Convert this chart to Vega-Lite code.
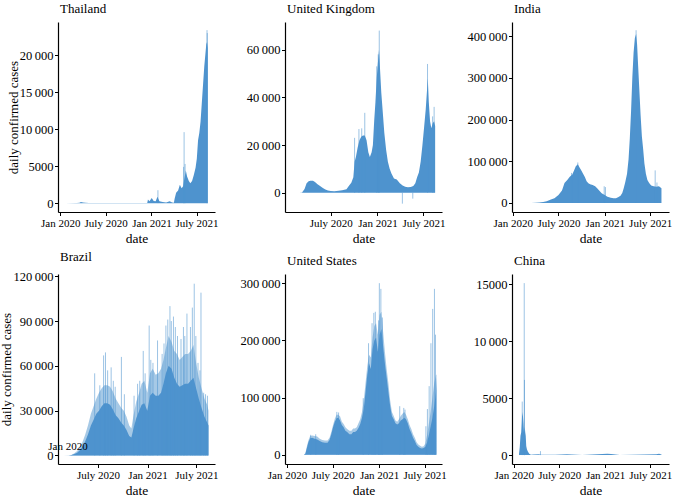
{
"$schema": "https://vega.github.io/schema/vega-lite/v6.json",
"padding": {"left": 0, "top": 3, "right": 3, "bottom": 3},
"columns": 3,
"spacing": {"row": 62, "column": 70},
"bounds": "flush",
"config": {
 "font": "Liberation Serif",
 "view": {"stroke": null},
 "axis": {"grid": false, "domainColor": "#000", "domainWidth": 1.2, "tickColor": "#000", "tickWidth": 1, "tickSize": 3.5, "labelColor": "#000", "labelFont": "Liberation Serif", "labelFontSize": 12.5, "labelPadding": 1.5, "titleFont": "Liberation Serif", "titleFontWeight": "normal", "titleFontSize": 13.5, "titleColor": "#000", "labelFlush": false, "labelOverlap": false},
 "axisX": {"labelFontSize": 11, "titlePadding": 3},
 "axisY": {"titlePadding": -1, "titleFontSize": 13},
 "title": {"font": "Liberation Serif", "fontSize": 13, "fontWeight": "normal", "anchor": "start", "frame": "group", "color": "#000", "offset": 6, "dx": 2}
},
"datasets": {
 "th_c": [{"d":"2020-01-22","v":0},{"d":"2020-03-08","v":5},{"d":"2020-03-18","v":60},{"d":"2020-03-24","v":150},{"d":"2020-04-02","v":100},{"d":"2020-04-12","v":40},{"d":"2020-04-25","v":15},{"d":"2020-05-15","v":5},{"d":"2020-08-01","v":5},{"d":"2020-10-01","v":8},{"d":"2020-12-15","v":10},{"d":"2020-12-18","v":500},{"d":"2020-12-24","v":250},{"d":"2021-01-02","v":700},{"d":"2021-01-10","v":300},{"d":"2021-01-18","v":250},{"d":"2021-01-25","v":850},{"d":"2021-02-02","v":250},{"d":"2021-02-15","v":150},{"d":"2021-03-01","v":100},{"d":"2021-03-15","v":250},{"d":"2021-03-25","v":80},{"d":"2021-04-01","v":60},{"d":"2021-04-04","v":600},{"d":"2021-04-10","v":1400},{"d":"2021-04-18","v":1700},{"d":"2021-04-25","v":2500},{"d":"2021-05-02","v":2000},{"d":"2021-05-08","v":2300},{"d":"2021-05-14","v":3500},{"d":"2021-05-19","v":4400},{"d":"2021-05-24","v":3600},{"d":"2021-05-31","v":3000},{"d":"2021-06-06","v":2700},{"d":"2021-06-13","v":3000},{"d":"2021-06-20","v":3800},{"d":"2021-06-27","v":4800},{"d":"2021-07-02","v":6000},{"d":"2021-07-07","v":8500},{"d":"2021-07-12","v":9500},{"d":"2021-07-17","v":11000},{"d":"2021-07-22","v":13500},{"d":"2021-07-27","v":16000},{"d":"2021-08-01","v":18500},{"d":"2021-08-05","v":20000},{"d":"2021-08-09","v":21500},{"d":"2021-08-12","v":21800},{"d":"2021-08-15","v":21000}],
 "th_s": [{"d":"2021-01-27","v":1750},{"d":"2021-05-10","v":4900},{"d":"2021-05-12","v":9600},{"d":"2021-05-16","v":5300},{"d":"2021-08-12","v":23400},{"d":"2021-08-13","v":23000}],
 "uk_c": [{"d":"2020-01-31","v":0},{"d":"2020-02-28","v":10},{"d":"2020-03-10","v":100},{"d":"2020-03-20","v":1500},{"d":"2020-03-28","v":4000},{"d":"2020-04-05","v":4800},{"d":"2020-04-12","v":5000},{"d":"2020-04-22","v":5000},{"d":"2020-04-30","v":4500},{"d":"2020-05-10","v":3500},{"d":"2020-05-20","v":2800},{"d":"2020-05-31","v":2000},{"d":"2020-06-10","v":1300},{"d":"2020-06-20","v":900},{"d":"2020-07-01","v":700},{"d":"2020-07-15","v":600},{"d":"2020-08-01","v":800},{"d":"2020-08-15","v":1000},{"d":"2020-09-01","v":1400},{"d":"2020-09-10","v":2800},{"d":"2020-09-20","v":4200},{"d":"2020-09-28","v":6500},{"d":"2020-10-03","v":13000},{"d":"2020-10-08","v":15000},{"d":"2020-10-15","v":19000},{"d":"2020-10-22","v":22000},{"d":"2020-10-29","v":23500},{"d":"2020-11-05","v":24000},{"d":"2020-11-12","v":24000},{"d":"2020-11-19","v":22000},{"d":"2020-11-26","v":17000},{"d":"2020-12-02","v":15000},{"d":"2020-12-09","v":17000},{"d":"2020-12-14","v":20000},{"d":"2020-12-19","v":30000},{"d":"2020-12-24","v":38000},{"d":"2020-12-29","v":48000},{"d":"2021-01-03","v":55000},{"d":"2021-01-07","v":60000},{"d":"2021-01-11","v":52000},{"d":"2021-01-16","v":42000},{"d":"2021-01-21","v":35000},{"d":"2021-01-28","v":25000},{"d":"2021-02-04","v":18000},{"d":"2021-02-11","v":13000},{"d":"2021-02-18","v":10000},{"d":"2021-02-25","v":8000},{"d":"2021-03-07","v":6000},{"d":"2021-03-18","v":5500},{"d":"2021-03-30","v":4000},{"d":"2021-04-10","v":3000},{"d":"2021-04-20","v":2500},{"d":"2021-05-01","v":2300},{"d":"2021-05-12","v":2400},{"d":"2021-05-22","v":2800},{"d":"2021-05-30","v":4000},{"d":"2021-06-06","v":6500},{"d":"2021-06-13","v":8500},{"d":"2021-06-20","v":13000},{"d":"2021-06-27","v":20000},{"d":"2021-07-04","v":28000},{"d":"2021-07-10","v":35000},{"d":"2021-07-15","v":43000},{"d":"2021-07-18","v":48000},{"d":"2021-07-22","v":38000},{"d":"2021-07-27","v":30000},{"d":"2021-08-01","v":27000},{"d":"2021-08-06","v":29000},{"d":"2021-08-12","v":30000},{"d":"2021-08-16","v":28000}],
 "uk_s": [{"d":"2020-10-03","v":23000},{"d":"2020-10-20","v":26700},{"d":"2020-10-31","v":27000},{"d":"2020-11-12","v":33500},{"d":"2020-12-29","v":53000},{"d":"2021-01-04","v":58000},{"d":"2021-01-08","v":68000},{"d":"2021-04-09","v":-4600},{"d":"2021-05-20","v":-2500},{"d":"2021-07-17","v":54000},{"d":"2021-08-06","v":32000},{"d":"2021-08-12","v":36000}],
 "in_c": [{"d":"2020-01-30","v":0},{"d":"2020-03-15","v":50},{"d":"2020-04-01","v":300},{"d":"2020-04-15","v":1000},{"d":"2020-05-01","v":2000},{"d":"2020-05-15","v":4000},{"d":"2020-06-01","v":8000},{"d":"2020-06-15","v":11000},{"d":"2020-07-01","v":19000},{"d":"2020-07-15","v":30000},{"d":"2020-07-25","v":48000},{"d":"2020-08-05","v":55000},{"d":"2020-08-15","v":63000},{"d":"2020-08-25","v":68000},{"d":"2020-09-01","v":78000},{"d":"2020-09-08","v":88000},{"d":"2020-09-16","v":93000},{"d":"2020-09-23","v":85000},{"d":"2020-09-30","v":78000},{"d":"2020-10-07","v":70000},{"d":"2020-10-14","v":62000},{"d":"2020-10-21","v":52000},{"d":"2020-10-28","v":47000},{"d":"2020-11-04","v":45000},{"d":"2020-11-14","v":43000},{"d":"2020-11-24","v":40000},{"d":"2020-12-02","v":35000},{"d":"2020-12-10","v":30000},{"d":"2020-12-20","v":23000},{"d":"2021-01-01","v":19000},{"d":"2021-01-12","v":15000},{"d":"2021-01-25","v":12500},{"d":"2021-02-05","v":11000},{"d":"2021-02-15","v":11000},{"d":"2021-02-25","v":14000},{"d":"2021-03-05","v":17000},{"d":"2021-03-12","v":24000},{"d":"2021-03-18","v":36000},{"d":"2021-03-24","v":50000},{"d":"2021-03-31","v":70000},{"d":"2021-04-06","v":105000},{"d":"2021-04-11","v":155000},{"d":"2021-04-16","v":220000},{"d":"2021-04-21","v":300000},{"d":"2021-04-26","v":360000},{"d":"2021-05-01","v":395000},{"d":"2021-05-06","v":405000},{"d":"2021-05-10","v":380000},{"d":"2021-05-14","v":330000},{"d":"2021-05-19","v":270000},{"d":"2021-05-24","v":210000},{"d":"2021-05-29","v":160000},{"d":"2021-06-03","v":130000},{"d":"2021-06-08","v":95000},{"d":"2021-06-14","v":70000},{"d":"2021-06-20","v":55000},{"d":"2021-06-27","v":48000},{"d":"2021-07-05","v":42000},{"d":"2021-07-15","v":40000},{"d":"2021-07-25","v":39000},{"d":"2021-08-05","v":40000},{"d":"2021-08-15","v":35000}],
 "in_s": [{"d":"2020-08-22","v":72000},{"d":"2020-09-16","v":97000},{"d":"2020-12-30","v":40000},{"d":"2021-01-04","v":38000},{"d":"2021-05-06","v":414000},{"d":"2021-07-21","v":78000},{"d":"2021-07-28","v":49000}],
 "br_c": [{"d":"2020-02-26","v":0},{"d":"2020-03-15","v":50},{"d":"2020-03-25","v":300},{"d":"2020-04-05","v":1000},{"d":"2020-04-15","v":1800},{"d":"2020-04-25","v":3500},{"d":"2020-05-05","v":6000},{"d":"2020-05-15","v":9500},{"d":"2020-05-25","v":14000},{"d":"2020-06-05","v":20000},{"d":"2020-06-15","v":24000},{"d":"2020-06-25","v":28000},{"d":"2020-07-05","v":30000},{"d":"2020-07-15","v":33000},{"d":"2020-07-25","v":35000},{"d":"2020-08-05","v":35000},{"d":"2020-08-15","v":34000},{"d":"2020-08-25","v":31000},{"d":"2020-09-05","v":27000},{"d":"2020-09-15","v":25000},{"d":"2020-09-25","v":22000},{"d":"2020-10-05","v":20000},{"d":"2020-10-15","v":17000},{"d":"2020-10-25","v":13000},{"d":"2020-11-02","v":12000},{"d":"2020-11-10","v":18000},{"d":"2020-11-20","v":25000},{"d":"2020-12-01","v":30000},{"d":"2020-12-10","v":34000},{"d":"2020-12-20","v":35000},{"d":"2020-12-31","v":30000},{"d":"2021-01-10","v":40000},{"d":"2021-01-20","v":42000},{"d":"2021-01-31","v":40000},{"d":"2021-02-10","v":40000},{"d":"2021-02-20","v":42000},{"d":"2021-03-01","v":48000},{"d":"2021-03-10","v":55000},{"d":"2021-03-20","v":60000},{"d":"2021-03-31","v":58000},{"d":"2021-04-10","v":52000},{"d":"2021-04-20","v":48000},{"d":"2021-04-30","v":46000},{"d":"2021-05-10","v":47000},{"d":"2021-05-20","v":48000},{"d":"2021-05-31","v":48000},{"d":"2021-06-10","v":50000},{"d":"2021-06-20","v":52000},{"d":"2021-06-30","v":45000},{"d":"2021-07-10","v":38000},{"d":"2021-07-20","v":32000},{"d":"2021-07-31","v":26000},{"d":"2021-08-10","v":22000},{"d":"2021-08-15","v":20000}],
 "br_h": [{"d":"2020-02-26","v":0},{"d":"2020-03-15","v":100},{"d":"2020-03-25","v":400},{"d":"2020-04-05","v":1500},{"d":"2020-04-15","v":3000},{"d":"2020-04-25","v":5500},{"d":"2020-05-05","v":9000},{"d":"2020-05-15","v":14000},{"d":"2020-05-25","v":20000},{"d":"2020-06-05","v":28000},{"d":"2020-06-15","v":33000},{"d":"2020-06-25","v":38000},{"d":"2020-07-05","v":42000},{"d":"2020-07-15","v":45000},{"d":"2020-07-25","v":47000},{"d":"2020-08-05","v":47000},{"d":"2020-08-15","v":46000},{"d":"2020-08-25","v":43000},{"d":"2020-09-05","v":38000},{"d":"2020-09-15","v":35000},{"d":"2020-09-25","v":32000},{"d":"2020-10-05","v":30000},{"d":"2020-10-15","v":26000},{"d":"2020-10-25","v":20000},{"d":"2020-11-02","v":18000},{"d":"2020-11-10","v":27000},{"d":"2020-11-20","v":36000},{"d":"2020-12-01","v":42000},{"d":"2020-12-10","v":48000},{"d":"2020-12-20","v":50000},{"d":"2020-12-31","v":42000},{"d":"2021-01-10","v":55000},{"d":"2021-01-20","v":58000},{"d":"2021-01-31","v":54000},{"d":"2021-02-10","v":55000},{"d":"2021-02-20","v":58000},{"d":"2021-03-01","v":64000},{"d":"2021-03-10","v":72000},{"d":"2021-03-20","v":80000},{"d":"2021-03-31","v":76000},{"d":"2021-04-10","v":70000},{"d":"2021-04-20","v":68000},{"d":"2021-04-30","v":64000},{"d":"2021-05-10","v":66000},{"d":"2021-05-20","v":68000},{"d":"2021-05-31","v":68000},{"d":"2021-06-10","v":70000},{"d":"2021-06-20","v":74000},{"d":"2021-06-30","v":62000},{"d":"2021-07-10","v":52000},{"d":"2021-07-20","v":45000},{"d":"2021-07-31","v":38000},{"d":"2021-08-10","v":34000},{"d":"2021-08-15","v":30000}],
 "br_s": [{"d":"2020-06-19","v":55000},{"d":"2020-07-08","v":47000},{"d":"2020-07-22","v":67000},{"d":"2020-07-29","v":69000},{"d":"2020-08-06","v":57000},{"d":"2020-08-19","v":59000},{"d":"2020-08-27","v":50000},{"d":"2020-09-03","v":46000},{"d":"2020-09-26","v":66000},{"d":"2020-10-07","v":41000},{"d":"2020-11-12","v":40000},{"d":"2020-11-25","v":48000},{"d":"2020-12-03","v":50000},{"d":"2020-12-16","v":70000},{"d":"2020-12-23","v":55000},{"d":"2021-01-07","v":87000},{"d":"2021-01-13","v":64000},{"d":"2021-01-21","v":62000},{"d":"2021-02-07","v":77000},{"d":"2021-02-24","v":68000},{"d":"2021-03-03","v":75000},{"d":"2021-03-10","v":87000},{"d":"2021-03-17","v":91000},{"d":"2021-03-25","v":100000},{"d":"2021-03-30","v":90000},{"d":"2021-04-07","v":93000},{"d":"2021-04-14","v":86000},{"d":"2021-04-22","v":80000},{"d":"2021-05-05","v":78000},{"d":"2021-05-14","v":86000},{"d":"2021-05-19","v":80000},{"d":"2021-05-27","v":95000},{"d":"2021-06-09","v":86000},{"d":"2021-06-16","v":99000},{"d":"2021-06-23","v":115000},{"d":"2021-06-29","v":80000},{"d":"2021-07-07","v":62000},{"d":"2021-07-14","v":57000},{"d":"2021-07-18","v":109000},{"d":"2021-07-28","v":42000},{"d":"2021-08-04","v":41000},{"d":"2021-08-11","v":40000}],
 "br_t": [{"d":"2020-03-12","v":5600,"t":"Jan 2020"}],
 "us_c": [{"d":"2020-01-22","v":0},{"d":"2020-03-01","v":10},{"d":"2020-03-08","v":200},{"d":"2020-03-14","v":2000},{"d":"2020-03-20","v":12000},{"d":"2020-03-26","v":22000},{"d":"2020-04-02","v":29000},{"d":"2020-04-10","v":30000},{"d":"2020-04-20","v":28000},{"d":"2020-04-30","v":27000},{"d":"2020-05-10","v":24000},{"d":"2020-05-20","v":22000},{"d":"2020-05-31","v":21000},{"d":"2020-06-10","v":21000},{"d":"2020-06-18","v":26000},{"d":"2020-06-25","v":36000},{"d":"2020-07-02","v":48000},{"d":"2020-07-09","v":58000},{"d":"2020-07-16","v":64000},{"d":"2020-07-23","v":65000},{"d":"2020-07-30","v":60000},{"d":"2020-08-06","v":52000},{"d":"2020-08-13","v":48000},{"d":"2020-08-20","v":42000},{"d":"2020-08-27","v":40000},{"d":"2020-09-05","v":36000},{"d":"2020-09-13","v":36000},{"d":"2020-09-20","v":40000},{"d":"2020-09-27","v":40000},{"d":"2020-10-04","v":42000},{"d":"2020-10-11","v":47000},{"d":"2020-10-18","v":54000},{"d":"2020-10-25","v":65000},{"d":"2020-11-01","v":80000},{"d":"2020-11-08","v":110000},{"d":"2020-11-15","v":140000},{"d":"2020-11-22","v":160000},{"d":"2020-11-29","v":150000},{"d":"2020-12-06","v":185000},{"d":"2020-12-13","v":200000},{"d":"2020-12-20","v":205000},{"d":"2020-12-27","v":180000},{"d":"2021-01-03","v":210000},{"d":"2021-01-10","v":220000},{"d":"2021-01-17","v":190000},{"d":"2021-01-24","v":160000},{"d":"2021-01-31","v":135000},{"d":"2021-02-07","v":110000},{"d":"2021-02-14","v":85000},{"d":"2021-02-21","v":68000},{"d":"2021-02-28","v":62000},{"d":"2021-03-07","v":55000},{"d":"2021-03-14","v":53000},{"d":"2021-03-21","v":55000},{"d":"2021-03-28","v":60000},{"d":"2021-04-04","v":62000},{"d":"2021-04-11","v":65000},{"d":"2021-04-18","v":62000},{"d":"2021-04-25","v":55000},{"d":"2021-05-02","v":45000},{"d":"2021-05-09","v":38000},{"d":"2021-05-16","v":30000},{"d":"2021-05-23","v":24000},{"d":"2021-05-30","v":17000},{"d":"2021-06-06","v":14000},{"d":"2021-06-13","v":12000},{"d":"2021-06-20","v":11000},{"d":"2021-06-27","v":12000},{"d":"2021-07-04","v":14000},{"d":"2021-07-11","v":22000},{"d":"2021-07-18","v":35000},{"d":"2021-07-25","v":50000},{"d":"2021-08-01","v":65000},{"d":"2021-08-08","v":85000},{"d":"2021-08-15","v":110000},{"d":"2021-08-17","v":135000}],
 "us_h": [{"d":"2020-01-22","v":0},{"d":"2020-03-01","v":10},{"d":"2020-03-08","v":300},{"d":"2020-03-14","v":3000},{"d":"2020-03-20","v":15000},{"d":"2020-03-26","v":25000},{"d":"2020-04-02","v":33000},{"d":"2020-04-10","v":34000},{"d":"2020-04-20","v":33000},{"d":"2020-04-30","v":32000},{"d":"2020-05-10","v":28000},{"d":"2020-05-20","v":26000},{"d":"2020-05-31","v":25000},{"d":"2020-06-10","v":25000},{"d":"2020-06-18","v":30000},{"d":"2020-06-25","v":40000},{"d":"2020-07-02","v":52000},{"d":"2020-07-09","v":63000},{"d":"2020-07-16","v":70000},{"d":"2020-07-23","v":70000},{"d":"2020-07-30","v":67000},{"d":"2020-08-06","v":58000},{"d":"2020-08-13","v":54000},{"d":"2020-08-20","v":48000},{"d":"2020-08-27","v":45000},{"d":"2020-09-05","v":42000},{"d":"2020-09-13","v":42000},{"d":"2020-09-20","v":46000},{"d":"2020-09-27","v":46000},{"d":"2020-10-04","v":48000},{"d":"2020-10-11","v":55000},{"d":"2020-10-18","v":62000},{"d":"2020-10-25","v":75000},{"d":"2020-11-01","v":95000},{"d":"2020-11-08","v":125000},{"d":"2020-11-15","v":155000},{"d":"2020-11-22","v":175000},{"d":"2020-11-29","v":170000},{"d":"2020-12-06","v":205000},{"d":"2020-12-13","v":225000},{"d":"2020-12-20","v":230000},{"d":"2020-12-27","v":210000},{"d":"2021-01-03","v":245000},{"d":"2021-01-10","v":250000},{"d":"2021-01-17","v":215000},{"d":"2021-01-24","v":180000},{"d":"2021-01-31","v":150000},{"d":"2021-02-07","v":125000},{"d":"2021-02-14","v":95000},{"d":"2021-02-21","v":75000},{"d":"2021-02-28","v":68000},{"d":"2021-03-07","v":60000},{"d":"2021-03-14","v":58000},{"d":"2021-03-21","v":62000},{"d":"2021-03-28","v":68000},{"d":"2021-04-04","v":72000},{"d":"2021-04-11","v":75000},{"d":"2021-04-18","v":70000},{"d":"2021-04-25","v":62000},{"d":"2021-05-02","v":52000},{"d":"2021-05-09","v":45000},{"d":"2021-05-16","v":36000},{"d":"2021-05-23","v":30000},{"d":"2021-05-30","v":22000},{"d":"2021-06-06","v":18000},{"d":"2021-06-13","v":16000},{"d":"2021-06-20","v":14000},{"d":"2021-06-27","v":15000},{"d":"2021-07-04","v":20000},{"d":"2021-07-11","v":35000},{"d":"2021-07-18","v":55000},{"d":"2021-07-25","v":75000},{"d":"2021-08-01","v":100000},{"d":"2021-08-08","v":125000},{"d":"2021-08-15","v":140000},{"d":"2021-08-17","v":140000}],
 "us_s": [{"d":"2020-04-04","v":35000},{"d":"2020-04-24","v":36000},{"d":"2020-07-17","v":75000},{"d":"2020-07-24","v":74000},{"d":"2020-10-30","v":99000},{"d":"2020-11-20","v":195000},{"d":"2020-12-04","v":230000},{"d":"2020-12-11","v":248000},{"d":"2020-12-17","v":250000},{"d":"2020-12-30","v":235000},{"d":"2021-01-02","v":300000},{"d":"2021-01-08","v":290000},{"d":"2021-01-14","v":240000},{"d":"2021-03-24","v":85000},{"d":"2021-04-09","v":82000},{"d":"2021-04-14","v":79000},{"d":"2021-07-06","v":50000},{"d":"2021-07-12","v":80000},{"d":"2021-07-19","v":120000},{"d":"2021-07-26","v":195000},{"d":"2021-08-02","v":255000},{"d":"2021-08-09","v":290000},{"d":"2021-08-13","v":210000}],
 "cn_c": [{"d":"2020-01-22","v":100},{"d":"2020-01-25","v":700},{"d":"2020-01-28","v":1700},{"d":"2020-01-31","v":2000},{"d":"2020-02-02","v":2800},{"d":"2020-02-04","v":3800},{"d":"2020-02-05","v":3600},{"d":"2020-02-07","v":3400},{"d":"2020-02-09","v":2800},{"d":"2020-02-11","v":2000},{"d":"2020-02-14","v":2500},{"d":"2020-02-16","v":2000},{"d":"2020-02-18","v":1700},{"d":"2020-02-20","v":800},{"d":"2020-02-23","v":500},{"d":"2020-02-27","v":300},{"d":"2020-03-03","v":120},{"d":"2020-03-10","v":40},{"d":"2020-03-20","v":60},{"d":"2020-04-10","v":80},{"d":"2020-04-20","v":30},{"d":"2020-06-15","v":30},{"d":"2020-08-01","v":80},{"d":"2020-10-01","v":20},{"d":"2021-01-10","v":120},{"d":"2021-01-25","v":100},{"d":"2021-03-01","v":20},{"d":"2021-07-25","v":80},{"d":"2021-08-05","v":120},{"d":"2021-08-15","v":50}],
 "cn_s": [{"d":"2020-02-04","v":4700},{"d":"2020-02-12","v":15100},{"d":"2020-02-13","v":6600},{"d":"2020-04-17","v":350}]
},
"concat": [
 {"title": {"text": "Thailand"}, "width": 157, "height": 190,
  "encoding": {
   "x": {"field": "d", "type": "temporal", "scale": {"type": "utc", "nice": false, "domain": [{"year":2019,"month":12,"date":23,"utc":true},{"year":2021,"month":9,"date":13,"utc":true}]}, "axis": {"title": "date", "values": [{"year":2020,"month":1,"date":1,"utc":true},{"year":2020,"month":7,"date":1,"utc":true},{"year":2021,"month":1,"date":1,"utc":true},{"year":2021,"month":7,"date":1,"utc":true}], "labelExpr": "utcmonth(datum.value) == 0 ? 'Jan ' + utcyear(datum.value) : 'July ' + utcyear(datum.value)"}},
   "y": {"field": "v", "type": "quantitative", "scale": {"domain": [-1200, 24500], "nice": false, "zero": false}, "axis": {"title": "daily confirmed cases", "values": [0,5000,10000,15000,20000], "labelExpr": "datum.value >= 10000 ? replace(format(datum.value, ','), ',', '\u2009') : format(datum.value, 'd')"}},
   "y2": {"datum": 0}},
  "layer": [
   {"data": {"name": "th_c"}, "mark": {"type": "area", "color": "#4e93ce"}},
   {"data": {"name": "th_s"}, "mark": {"type": "rule", "color": "#4e93ce", "strokeWidth": 0.8, "opacity": 0.7}}
  ]},
 {"title": {"text": "United Kingdom"}, "width": 157, "height": 190,
  "encoding": {
   "x": {"field": "d", "type": "temporal", "scale": {"type": "utc", "nice": false, "domain": [{"year":2020,"month":1,"date":3,"utc":true},{"year":2021,"month":9,"date":12,"utc":true}]}, "axis": {"title": "date", "values": [{"year":2020,"month":7,"date":1,"utc":true},{"year":2021,"month":1,"date":1,"utc":true},{"year":2021,"month":7,"date":1,"utc":true}], "labelExpr": "utcmonth(datum.value) == 0 ? 'Jan ' + utcyear(datum.value) : 'July ' + utcyear(datum.value)"}},
   "y": {"field": "v", "type": "quantitative", "scale": {"domain": [-8100, 71600], "nice": false, "zero": false}, "axis": {"title": null, "values": [0,20000,40000,60000], "labelExpr": "datum.value >= 10000 ? replace(format(datum.value, ','), ',', '\u2009') : format(datum.value, 'd')"}},
   "y2": {"datum": 0}},
  "layer": [
   {"data": {"name": "uk_c"}, "mark": {"type": "area", "color": "#4e93ce"}},
   {"data": {"name": "uk_s"}, "mark": {"type": "rule", "color": "#4e93ce", "strokeWidth": 0.8, "opacity": 0.7}}
  ]},
 {"title": {"text": "India"}, "width": 157, "height": 190,
  "encoding": {
   "x": {"field": "d", "type": "temporal", "scale": {"type": "utc", "nice": false, "domain": [{"year":2019,"month":12,"date":29,"utc":true},{"year":2021,"month":9,"date":14,"utc":true}]}, "axis": {"title": "date", "values": [{"year":2020,"month":1,"date":1,"utc":true},{"year":2020,"month":7,"date":1,"utc":true},{"year":2021,"month":1,"date":1,"utc":true},{"year":2021,"month":7,"date":1,"utc":true}], "labelExpr": "utcmonth(datum.value) == 0 ? 'Jan ' + utcyear(datum.value) : 'July ' + utcyear(datum.value)"}},
   "y": {"field": "v", "type": "quantitative", "scale": {"domain": [-21700, 433700], "nice": false, "zero": false}, "axis": {"title": null, "values": [0,100000,200000,300000,400000], "labelExpr": "datum.value >= 10000 ? replace(format(datum.value, ','), ',', '\u2009') : format(datum.value, 'd')"}},
   "y2": {"datum": 0}},
  "layer": [
   {"data": {"name": "in_c"}, "mark": {"type": "area", "color": "#4e93ce"}},
   {"data": {"name": "in_s"}, "mark": {"type": "rule", "color": "#4e93ce", "strokeWidth": 0.8, "opacity": 0.7}}
  ]},
 {"title": {"text": "Brazil"}, "width": 157, "height": 190,
  "encoding": {
   "x": {"field": "d", "type": "temporal", "scale": {"type": "utc", "nice": false, "domain": [{"year":2020,"month":2,"date":4,"utc":true},{"year":2021,"month":9,"date":8,"utc":true}]}, "axis": {"title": "date", "values": [{"year":2020,"month":7,"date":1,"utc":true},{"year":2021,"month":1,"date":1,"utc":true},{"year":2021,"month":7,"date":1,"utc":true}], "labelExpr": "utcmonth(datum.value) == 0 ? 'Jan ' + utcyear(datum.value) : 'July ' + utcyear(datum.value)"}},
   "y": {"field": "v", "type": "quantitative", "scale": {"domain": [-5700, 121500], "nice": false, "zero": false}, "axis": {"title": "daily confirmed cases", "values": [0,30000,60000,90000,120000], "labelExpr": "datum.value >= 10000 ? replace(format(datum.value, ','), ',', '\u2009') : format(datum.value, 'd')"}}},
  "layer": [
   {"data": {"name": "br_h"}, "mark": {"type": "area", "color": "#4e93ce", "opacity": 0.5}, "encoding": {"y2": {"datum": 0}}},
   {"data": {"name": "br_c"}, "mark": {"type": "area", "color": "#4e93ce"}, "encoding": {"y2": {"datum": 0}}},
   {"data": {"name": "br_s"}, "mark": {"type": "rule", "color": "#4e93ce", "strokeWidth": 0.8, "opacity": 0.7}, "encoding": {"y2": {"datum": 0}}},
   {"data": {"name": "br_t"}, "mark": {"type": "text", "font": "Liberation Serif", "fontSize": 11, "color": "#000"}, "encoding": {"text": {"field": "t"}}}
  ]},
 {"title": {"text": "United States"}, "width": 157, "height": 190,
  "encoding": {
   "x": {"field": "d", "type": "temporal", "scale": {"type": "utc", "nice": false, "domain": [{"year":2019,"month":12,"date":24,"utc":true},{"year":2021,"month":9,"date":8,"utc":true}]}, "axis": {"title": "date", "values": [{"year":2020,"month":1,"date":1,"utc":true},{"year":2020,"month":7,"date":1,"utc":true},{"year":2021,"month":1,"date":1,"utc":true},{"year":2021,"month":7,"date":1,"utc":true}], "labelExpr": "utcmonth(datum.value) == 0 ? 'Jan ' + utcyear(datum.value) : 'July ' + utcyear(datum.value)"}},
   "y": {"field": "v", "type": "quantitative", "scale": {"domain": [-16000, 316000], "nice": false, "zero": false}, "axis": {"title": null, "values": [0,100000,200000,300000], "labelExpr": "datum.value >= 10000 ? replace(format(datum.value, ','), ',', '\u2009') : format(datum.value, 'd')"}},
   "y2": {"datum": 0}},
  "layer": [
   {"data": {"name": "us_h"}, "mark": {"type": "area", "color": "#4e93ce", "opacity": 0.5}},
   {"data": {"name": "us_c"}, "mark": {"type": "area", "color": "#4e93ce"}},
   {"data": {"name": "us_s"}, "mark": {"type": "rule", "color": "#4e93ce", "strokeWidth": 0.8, "opacity": 0.7}}
  ]},
 {"title": {"text": "China"}, "width": 157, "height": 190,
  "encoding": {
   "x": {"field": "d", "type": "temporal", "scale": {"type": "utc", "nice": false, "domain": [{"year":2019,"month":12,"date":25,"utc":true},{"year":2021,"month":9,"date":14,"utc":true}]}, "axis": {"title": "date", "values": [{"year":2020,"month":1,"date":1,"utc":true},{"year":2020,"month":7,"date":1,"utc":true},{"year":2021,"month":1,"date":1,"utc":true},{"year":2021,"month":7,"date":1,"utc":true}], "labelExpr": "utcmonth(datum.value) == 0 ? 'Jan ' + utcyear(datum.value) : 'July ' + utcyear(datum.value)"}},
   "y": {"field": "v", "type": "quantitative", "scale": {"domain": [-780, 15900], "nice": false, "zero": false}, "axis": {"title": null, "values": [0,5000,10000,15000], "labelExpr": "datum.value == 10000 ? '10\u2009000' : format(datum.value, 'd')"}},
   "y2": {"datum": 0}},
  "layer": [
   {"data": {"name": "cn_c"}, "mark": {"type": "area", "color": "#4e93ce"}},
   {"data": {"name": "cn_s"}, "mark": {"type": "rule", "color": "#4e93ce", "strokeWidth": 0.8, "opacity": 0.7}}
  ]}
]
}
